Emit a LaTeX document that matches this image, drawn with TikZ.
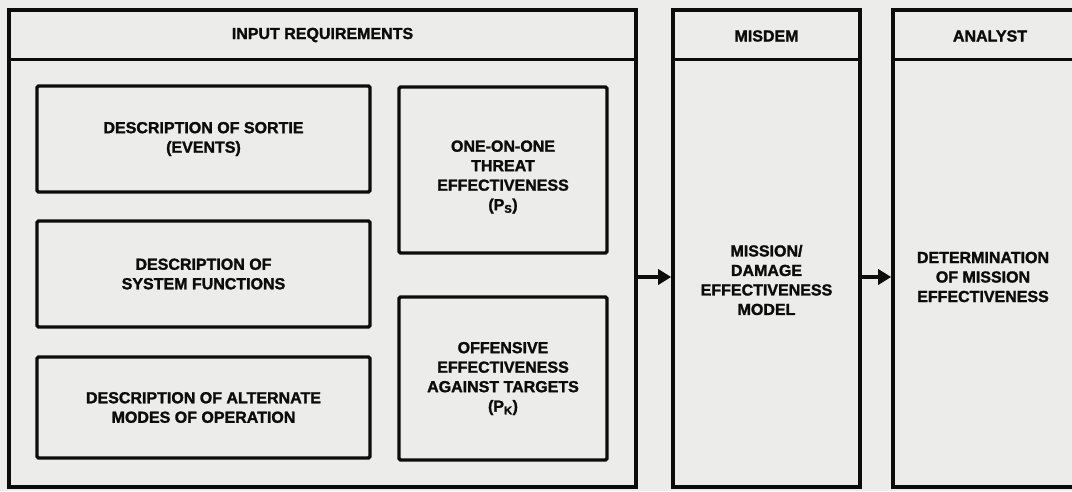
\documentclass[tikz,border=0pt]{standalone}
\usepackage{fontspec}
\setmainfont{Liberation Sans}
\newfontfamily\heavy[FakeBold=1.6]{Liberation Sans Bold}
\usetikzlibrary{arrows.meta}
\definecolor{paper}{RGB}{236,236,234}
\definecolor{ink}{RGB}{12,12,12}
\begin{document}
\begin{tikzpicture}[x=1pt,y=-1pt,
  lbl/.style={font=\heavy\fontsize{16}{19.5}\selectfont,text=ink,align=center,inner sep=0pt},
  box/.style={lbl,draw=ink,line width=3.4pt,rounded corners=1.5pt},
  frame/.style={draw=ink,line width=3.6pt,inner sep=0pt},
  hdr/.style={draw=ink,line width=3.4pt},
  flow/.style={draw=ink,line width=3.6pt,-{Triangle[length=13pt,width=15pt]}}]
\path[fill=paper] (0,0) rectangle (1072,491);
\useasboundingbox (0,0) rectangle (1072,491);
% outer frames
\node[frame,minimum width=627pt,minimum height=477pt] (big) at (322.5,248.5) {};
\node[frame,minimum width=187pt,minimum height=477pt] (misdem) at (766.5,248.5) {};
\node[frame,minimum width=194pt,minimum height=477pt] (analyst) at (990,248.5) {};
% header lines
\draw[hdr] ([yshift=-51pt]big.north west) -- ([yshift=-51pt]big.north east);
\draw[hdr] ([yshift=-51pt]misdem.north west) -- ([yshift=-51pt]misdem.north east);
\draw[hdr] ([yshift=-51pt]analyst.north west) -- ([yshift=-51pt]analyst.north east);
% titles
\node[lbl] (tin) at (322.5,35) {INPUT REQUIREMENTS};
\node[lbl] (tmis) at (766.5,36) {MISDEM};
\node[lbl] (tan) at (990,36) {ANALYST};
% input boxes
\node[box,minimum width=333pt,minimum height=106pt] (sortie) at (203.5,139) {DESCRIPTION OF SORTIE\\(EVENTS)};
\node[box,minimum width=333pt,minimum height=106pt] (sysfun) at (203.5,274) {DESCRIPTION OF\\SYSTEM FUNCTIONS};
\node[box,minimum width=333pt,minimum height=101pt] (modes) at (203.5,407.5) {DESCRIPTION OF ALTERNATE\\MODES OF OPERATION};
\node[box,minimum width=208pt,minimum height=166pt] (threat) at (503,170) {};
\node[lbl] (threattxt) at (503,177) {ONE-ON-ONE\\THREAT\\EFFECTIVENESS\\(P\textsubscript{S})};
\node[box,minimum width=208pt,minimum height=163pt] (offens) at (503,378.5) {OFFENSIVE\\EFFECTIVENESS\\AGAINST TARGETS\\(P\textsubscript{K})};
% model texts
\node[lbl] (model) at (766.5,280) {MISSION/\\DAMAGE\\EFFECTIVENESS\\MODEL};
\node[lbl] (determ) at (983,277) {DETERMINATION\\OF MISSION\\EFFECTIVENESS};
% arrows
\draw[flow] ([yshift=-28.5pt]big.east) -- ([yshift=-28.5pt]misdem.west);
\draw[flow] ([yshift=-28.5pt]misdem.east) -- ([yshift=-28.5pt]analyst.west);
\end{tikzpicture}
\end{document}
